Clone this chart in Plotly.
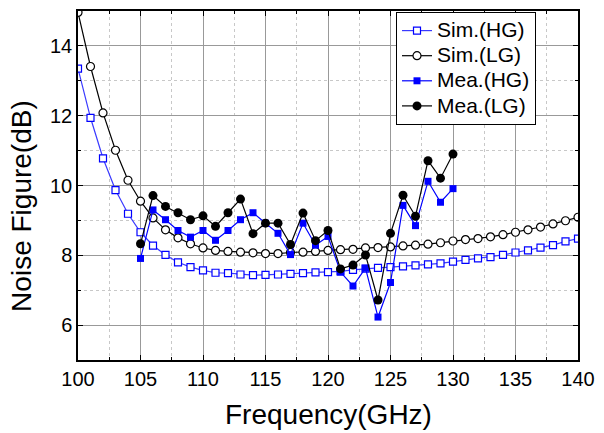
import plotly.graph_objects as go

# ---- data ----
freq_sim = list(range(100, 141))
sim_hg = [13.35, 11.94, 10.78, 9.87, 9.19, 8.66, 8.28, 8.01, 7.80, 7.66,
          7.57, 7.50, 7.49, 7.45, 7.43, 7.44, 7.45, 7.47, 7.49, 7.51,
          7.52, 7.54, 7.58, 7.62, 7.64, 7.66, 7.68, 7.71, 7.74, 7.77,
          7.82, 7.87, 7.91, 7.95, 8.01, 8.08, 8.14, 8.22, 8.29, 8.40, 8.48]
sim_lg = [14.96, 13.41, 12.08, 11.01, 10.15, 9.55, 9.07, 8.73, 8.50, 8.33,
          8.21, 8.14, 8.11, 8.09, 8.07, 8.05, 8.05, 8.08, 8.09, 8.11,
          8.14, 8.16, 8.17, 8.21, 8.22, 8.24, 8.27, 8.29, 8.32, 8.36,
          8.41, 8.45, 8.48, 8.53, 8.59, 8.66, 8.73, 8.81, 8.90, 8.99, 9.09]
freq_mea = list(range(105, 131))
mea_hg = [7.91, 9.30, 9.02, 8.71, 8.52, 8.71, 8.43, 8.71, 9.02, 9.22,
          8.92, 8.63, 8.02, 8.92, 8.29, 8.54, 7.52, 7.12, 7.63, 6.23,
          7.22, 9.43, 8.85, 10.12, 9.52, 9.91]
mea_lg = [8.33, 9.71, 9.40, 9.22, 9.02, 9.13, 8.83, 9.22, 9.61, 8.62,
          8.92, 8.92, 8.31, 9.21, 8.42, 8.71, 7.61, 7.72, 8.01, 6.72,
          8.63, 9.72, 9.12, 10.71, 10.21, 10.90]
series_names = ["Sim.(HG)", "Sim.(LG)", "Mea.(HG)", "Mea.(LG)"]
x_ticks = [100, 105, 110, 115, 120, 125, 130, 135, 140]
y_ticks = [6, 8, 10, 12, 14]

BLUE = "#0000ff"
FONT = "Liberation Sans, Arial, sans-serif"


def legend_label(s):
    return '<span style="font-size:21px">' + s + "</span>"


fig = go.Figure()
fig.add_trace(go.Scatter(x=freq_sim, y=sim_hg, name=legend_label(series_names[0]),
                         mode="lines+markers",
                         line=dict(color="#3a3aff", width=1.2),
                         marker=dict(symbol="square", size=7, color="white",
                                     line=dict(color=BLUE, width=1.2))))
fig.add_trace(go.Scatter(x=freq_sim, y=sim_lg, name=legend_label(series_names[1]),
                         mode="lines+markers",
                         line=dict(color="black", width=1.2),
                         marker=dict(symbol="circle", size=8, color="white",
                                     line=dict(color="black", width=1.2))))
fig.add_trace(go.Scatter(x=freq_mea, y=mea_hg, name=legend_label(series_names[2]),
                         mode="lines+markers",
                         line=dict(color=BLUE, width=1.2),
                         marker=dict(symbol="square", size=7, color=BLUE)))
fig.add_trace(go.Scatter(x=freq_mea, y=mea_lg, name=legend_label(series_names[3]),
                         mode="lines+markers",
                         line=dict(color="black", width=1.2),
                         marker=dict(symbol="circle", size=9, color="black")))

axis_common = dict(
    showline=True, linecolor="black", linewidth=1.5, mirror="ticks",
    ticks="inside", ticklen=5, tickcolor="black", tickwidth=1,
    showgrid=True, gridcolor="#999999", gridwidth=1,
    zeroline=False, tickfont=dict(family=FONT, size=20, color="black"),
)

fig.update_xaxes(range=[100, 140], tickmode="array", tickvals=x_ticks,
                 minor=dict(dtick=2.5, tick0=100, showgrid=True, griddash="dot",
                            gridcolor="#c8c8c8", ticks="inside", ticklen=3,
                            tickcolor="black"),
                 **axis_common)
fig.update_yaxes(range=[5, 15], tickmode="array", tickvals=y_ticks,
                 minor=dict(dtick=1, tick0=5, showgrid=True, griddash="dot",
                            gridcolor="#c8c8c8", ticks="inside", ticklen=3,
                            tickcolor="black"),
                 **axis_common)

fig.update_layout(
    width=604, height=433,
    margin=dict(l=78, r=21, t=9, b=73),
    paper_bgcolor="white", plot_bgcolor="white",
    font=dict(family=FONT, color="black"),
    showlegend=True,
    legend=dict(x=0.636, y=0.997, xanchor="left", yanchor="top",
                bgcolor="white", bordercolor="black", borderwidth=1,
                font=dict(family=FONT, size=17, color="black"),
                tracegroupgap=0, itemwidth=30),
    annotations=[
        dict(text="Frequency(GHz)", xref="paper", yref="paper", x=0.5, y=-0.157,
             xanchor="center", yanchor="middle", showarrow=False,
             font=dict(family=FONT, size=28, color="black")),
        dict(text="Noise Figure(dB)", xref="paper", yref="paper", x=-0.112, y=0.4416,
             xanchor="center", yanchor="middle", showarrow=False, textangle=-90,
             font=dict(family=FONT, size=28, color="black")),
    ],
)

fig.write_html("out.html", config={"displayModeBar": False},
               post_script="document.body.style.margin='0';document.body.style.overflow='hidden';")
